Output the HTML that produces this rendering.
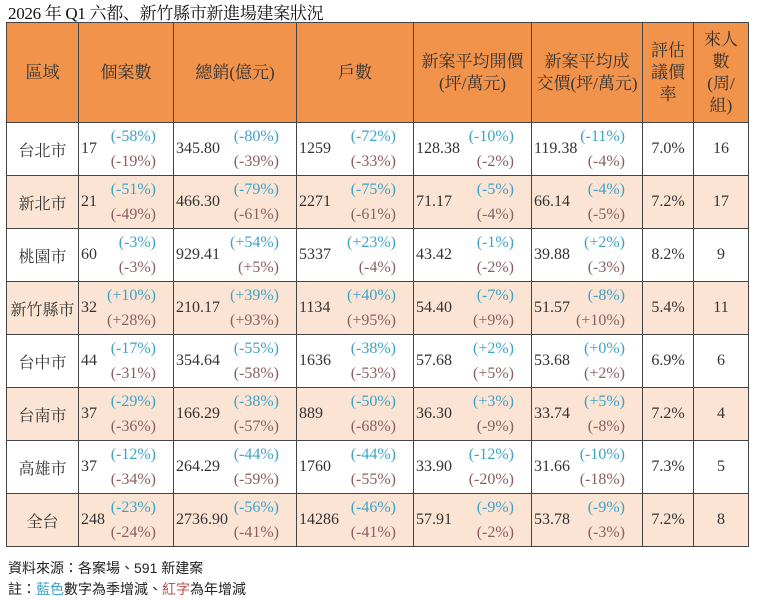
<!DOCTYPE html>
<html><head><meta charset="utf-8"><style>
body{margin:0;background:#fff;width:757px;height:600px;overflow:hidden;font-family:"Liberation Serif","Noto Serif CJK SC","Noto Sans CJK TC",serif;color:#333}
.t{position:absolute;left:8px;top:-1px;font-size:17px;color:#111;letter-spacing:-0.3px}
table{position:absolute;left:6px;top:22px;border-collapse:collapse;table-layout:fixed}
td{border:1px solid #444;padding:0;font-size:15px;vertical-align:middle}
tr.h td{background:#f2934b;height:99px;text-align:center;font-size:17px;line-height:22px;color:#333}
tr.r td{height:52px}
tr.p td{background:#fce4d4}
.c{text-align:center;font-size:16px}
.d{display:flex;align-items:center;height:52px}
.n{padding-left:2px;font-size:16px}
.pp{flex:1;text-align:right;padding-right:17px;line-height:25px;font-size:16px}
.b{color:#3ba3c9}.rd{color:#8a5f62}
.f{position:absolute;left:8px;font-family:"Liberation Sans","Noto Sans CJK TC",sans-serif;font-size:14px;color:#222}
</style></head><body>
<div class="t">2026 年 Q1 六都、新竹縣市新進場建案狀況</div>
<table>
<colgroup><col style="width:72px"><col style="width:95px"><col style="width:123px"><col style="width:117px"><col style="width:118px"><col style="width:111px"><col style="width:51px"><col style="width:55px"></colgroup>
<tr class="h"><td>區域</td><td>個案數</td><td>總銷(億元)</td><td>戶數</td><td>新案平均開價<br>(坪/萬元)</td><td>新案平均成<br>交價(坪/萬元)</td><td>評估<br>議價<br>率</td><td>來人<br>數<br>(周/<br>組)</td></tr>
<tr class="r"><td class="c">台北市</td><td><div class="d"><span class="n">17</span><span class="pp"><span class="b">(-58%)</span><br><span class="rd">(-19%)</span></span></div></td><td><div class="d"><span class="n">345.80</span><span class="pp"><span class="b">(-80%)</span><br><span class="rd">(-39%)</span></span></div></td><td><div class="d"><span class="n">1259</span><span class="pp"><span class="b">(-72%)</span><br><span class="rd">(-33%)</span></span></div></td><td><div class="d"><span class="n">128.38</span><span class="pp"><span class="b">(-10%)</span><br><span class="rd">(-2%)</span></span></div></td><td><div class="d"><span class="n">119.38</span><span class="pp"><span class="b">(-11%)</span><br><span class="rd">(-4%)</span></span></div></td><td class="c">7.0%</td><td class="c">16</td></tr>
<tr class="r p"><td class="c">新北市</td><td><div class="d"><span class="n">21</span><span class="pp"><span class="b">(-51%)</span><br><span class="rd">(-49%)</span></span></div></td><td><div class="d"><span class="n">466.30</span><span class="pp"><span class="b">(-79%)</span><br><span class="rd">(-61%)</span></span></div></td><td><div class="d"><span class="n">2271</span><span class="pp"><span class="b">(-75%)</span><br><span class="rd">(-61%)</span></span></div></td><td><div class="d"><span class="n">71.17</span><span class="pp"><span class="b">(-5%)</span><br><span class="rd">(-4%)</span></span></div></td><td><div class="d"><span class="n">66.14</span><span class="pp"><span class="b">(-4%)</span><br><span class="rd">(-5%)</span></span></div></td><td class="c">7.2%</td><td class="c">17</td></tr>
<tr class="r"><td class="c">桃園市</td><td><div class="d"><span class="n">60</span><span class="pp"><span class="b">(-3%)</span><br><span class="rd">(-3%)</span></span></div></td><td><div class="d"><span class="n">929.41</span><span class="pp"><span class="b">(+54%)</span><br><span class="rd">(+5%)</span></span></div></td><td><div class="d"><span class="n">5337</span><span class="pp"><span class="b">(+23%)</span><br><span class="rd">(-4%)</span></span></div></td><td><div class="d"><span class="n">43.42</span><span class="pp"><span class="b">(-1%)</span><br><span class="rd">(-2%)</span></span></div></td><td><div class="d"><span class="n">39.88</span><span class="pp"><span class="b">(+2%)</span><br><span class="rd">(-3%)</span></span></div></td><td class="c">8.2%</td><td class="c">9</td></tr>
<tr class="r p"><td class="c">新竹縣市</td><td><div class="d"><span class="n">32</span><span class="pp"><span class="b">(+10%)</span><br><span class="rd">(+28%)</span></span></div></td><td><div class="d"><span class="n">210.17</span><span class="pp"><span class="b">(+39%)</span><br><span class="rd">(+93%)</span></span></div></td><td><div class="d"><span class="n">1134</span><span class="pp"><span class="b">(+40%)</span><br><span class="rd">(+95%)</span></span></div></td><td><div class="d"><span class="n">54.40</span><span class="pp"><span class="b">(-7%)</span><br><span class="rd">(+9%)</span></span></div></td><td><div class="d"><span class="n">51.57</span><span class="pp"><span class="b">(-8%)</span><br><span class="rd">(+10%)</span></span></div></td><td class="c">5.4%</td><td class="c">11</td></tr>
<tr class="r"><td class="c">台中市</td><td><div class="d"><span class="n">44</span><span class="pp"><span class="b">(-17%)</span><br><span class="rd">(-31%)</span></span></div></td><td><div class="d"><span class="n">354.64</span><span class="pp"><span class="b">(-55%)</span><br><span class="rd">(-58%)</span></span></div></td><td><div class="d"><span class="n">1636</span><span class="pp"><span class="b">(-38%)</span><br><span class="rd">(-53%)</span></span></div></td><td><div class="d"><span class="n">57.68</span><span class="pp"><span class="b">(+2%)</span><br><span class="rd">(+5%)</span></span></div></td><td><div class="d"><span class="n">53.68</span><span class="pp"><span class="b">(+0%)</span><br><span class="rd">(+2%)</span></span></div></td><td class="c">6.9%</td><td class="c">6</td></tr>
<tr class="r p"><td class="c">台南市</td><td><div class="d"><span class="n">37</span><span class="pp"><span class="b">(-29%)</span><br><span class="rd">(-36%)</span></span></div></td><td><div class="d"><span class="n">166.29</span><span class="pp"><span class="b">(-38%)</span><br><span class="rd">(-57%)</span></span></div></td><td><div class="d"><span class="n">889</span><span class="pp"><span class="b">(-50%)</span><br><span class="rd">(-68%)</span></span></div></td><td><div class="d"><span class="n">36.30</span><span class="pp"><span class="b">(+3%)</span><br><span class="rd">(-9%)</span></span></div></td><td><div class="d"><span class="n">33.74</span><span class="pp"><span class="b">(+5%)</span><br><span class="rd">(-8%)</span></span></div></td><td class="c">7.2%</td><td class="c">4</td></tr>
<tr class="r"><td class="c">高雄市</td><td><div class="d"><span class="n">37</span><span class="pp"><span class="b">(-12%)</span><br><span class="rd">(-34%)</span></span></div></td><td><div class="d"><span class="n">264.29</span><span class="pp"><span class="b">(-44%)</span><br><span class="rd">(-59%)</span></span></div></td><td><div class="d"><span class="n">1760</span><span class="pp"><span class="b">(-44%)</span><br><span class="rd">(-55%)</span></span></div></td><td><div class="d"><span class="n">33.90</span><span class="pp"><span class="b">(-12%)</span><br><span class="rd">(-20%)</span></span></div></td><td><div class="d"><span class="n">31.66</span><span class="pp"><span class="b">(-10%)</span><br><span class="rd">(-18%)</span></span></div></td><td class="c">7.3%</td><td class="c">5</td></tr>
<tr class="r p"><td class="c">全台</td><td><div class="d"><span class="n">248</span><span class="pp"><span class="b">(-23%)</span><br><span class="rd">(-24%)</span></span></div></td><td><div class="d"><span class="n">2736.90</span><span class="pp"><span class="b">(-56%)</span><br><span class="rd">(-41%)</span></span></div></td><td><div class="d"><span class="n">14286</span><span class="pp"><span class="b">(-46%)</span><br><span class="rd">(-41%)</span></span></div></td><td><div class="d"><span class="n">57.91</span><span class="pp"><span class="b">(-9%)</span><br><span class="rd">(-2%)</span></span></div></td><td><div class="d"><span class="n">53.78</span><span class="pp"><span class="b">(-9%)</span><br><span class="rd">(-3%)</span></span></div></td><td class="c">7.2%</td><td class="c">8</td></tr>
</table>
<div class="f" style="top:558px">資料來源：各案場、591 新建案</div>
<div class="f" style="top:579px">註：<span style="color:#3ba3c9">藍色</span>數字為季增減、<span style="color:#c0504d">紅字</span>為年增減</div>
</body></html>
